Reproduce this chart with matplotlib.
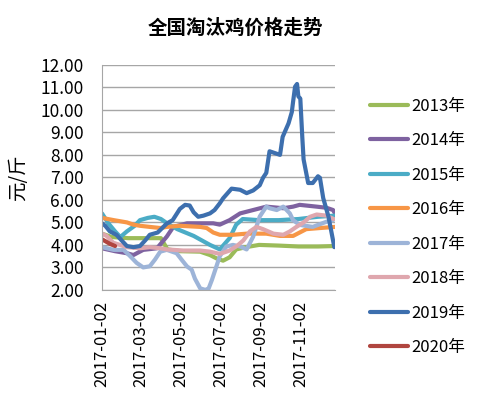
import numpy as np
import matplotlib.pyplot as plt

plt.rcParams['font.family'] = ['Noto Sans CJK SC', 'DejaVu Sans']

BASE = np.datetime64("2017-01-02")

# 每个年份: 距 2017-01-02 的天数 + 价格 (元/斤)
days_2013 = [0, 15, 40, 70, 90, 100, 120, 150, 165, 175, 185, 195, 205, 220, 240, 270, 300, 330, 355]
vals_2013 = [4.5, 4.35, 4.3, 4.3, 4.3, 3.8, 3.72, 3.7, 3.55, 3.4, 3.3, 3.45, 3.8, 3.9, 4.0, 3.97, 3.93, 3.93, 3.95]

days_2014 = [0, 20, 38, 48, 63, 84, 99, 109, 130, 150, 170, 180, 195, 211, 231, 251, 277, 292, 302, 328, 343, 353, 356]
vals_2014 = [3.85, 3.72, 3.63, 3.55, 3.78, 3.85, 4.37, 4.8, 4.96, 4.96, 4.96, 4.9, 5.1, 5.4, 5.55, 5.7, 5.63, 5.7, 5.78, 5.7, 5.65, 5.55, 5.4]

days_2015 = [0, 10, 20, 28, 38, 50, 58, 70, 80, 90, 100, 115, 140, 165, 180, 195, 205, 215, 240, 270, 300, 330, 356]
vals_2015 = [5.4, 4.95, 4.6, 4.35, 4.6, 4.85, 5.1, 5.2, 5.25, 5.15, 4.95, 4.7, 4.4, 4.0, 3.8, 4.3, 4.9, 5.15, 5.1, 5.1, 5.15, 5.25, 5.3]

days_2016 = [0, 18, 38, 48, 58, 73, 89, 99, 119, 150, 160, 170, 180, 200, 221, 251, 272, 292, 302, 312, 333, 356]
vals_2016 = [5.2, 5.1, 5.0, 4.9, 4.85, 4.8, 4.75, 4.8, 4.85, 4.8, 4.75, 4.55, 4.45, 4.45, 4.5, 4.5, 4.4, 4.4, 4.55, 4.7, 4.75, 4.8]

days_2017 = [0, 18, 33, 43, 53, 63, 73, 81, 89, 99, 114, 122, 130, 137, 142, 150, 158, 163, 168, 180, 190, 200, 211, 221, 231, 241, 251, 256, 267, 277, 287, 292, 302, 322, 343, 353]
vals_2017 = [3.9, 3.78, 3.78, 3.5, 3.2, 3.0, 3.05, 3.35, 3.7, 3.78, 3.63, 3.33, 3.04, 2.9, 2.5, 2.07, 2.0, 2.07, 2.45, 3.5, 3.93, 4.0, 3.93, 3.8, 4.37, 5.26, 5.7, 5.63, 5.55, 5.7, 5.4, 5.1, 4.89, 4.8, 5.03, 5.1]

days_2018 = [0, 7, 17, 38, 58, 73, 89, 99, 124, 150, 165, 180, 195, 206, 216, 226, 236, 246, 262, 277, 287, 297, 308, 318, 328, 343, 354]
vals_2018 = [4.5, 4.4, 4.1, 3.9, 3.85, 3.9, 3.85, 3.8, 3.75, 3.75, 3.7, 3.6, 3.75, 3.95, 4.2, 4.6, 4.8, 4.7, 4.5, 4.45, 4.6, 4.8, 5.0, 5.25, 5.35, 5.3, 5.15]

days_2019 = [0, 5, 12, 22, 30, 38, 48, 58, 66, 73, 85, 99, 108, 119, 127, 134, 140, 147, 155, 165, 172, 180, 185,
             198, 211, 221, 231, 241, 246, 251, 256, 262, 272, 276, 279, 285, 290, 292, 295, 298, 300, 303, 306,
             308, 311, 315, 322, 330, 333, 338, 346, 353, 355]
vals_2019 = [4.96, 4.85, 4.6, 4.45, 4.2, 3.95, 3.9, 3.95, 4.2, 4.45, 4.55, 4.95, 5.1, 5.6, 5.78, 5.75, 5.45, 5.25, 5.3, 5.4, 5.55, 5.85, 6.07,
             6.5, 6.45, 6.3, 6.42, 6.65, 6.98, 7.2, 8.16, 8.1, 8.0, 8.8, 9.0, 9.4, 9.9, 10.37, 11.03, 11.15, 10.6, 10.5, 8.8,
             7.8, 7.35, 6.75, 6.75, 7.05, 6.98, 6.08, 5.26, 4.2, 3.9]

days_2020 = [0, 6, 12, 20]
vals_2020 = [4.25, 4.15, 4.05, 3.95]

series = [
    ("2013年", days_2013, vals_2013, "#9BBB59"),
    ("2014年", days_2014, vals_2014, "#7E62A0"),
    ("2015年", days_2015, vals_2015, "#4BACC6"),
    ("2016年", days_2016, vals_2016, "#F79646"),
    ("2017年", days_2017, vals_2017, "#9DB4D8"),
    ("2018年", days_2018, vals_2018, "#DFA7AE"),
    ("2019年", days_2019, vals_2019, "#3D6FAE"),
    ("2020年", days_2020, vals_2020, "#B0453F"),
]

tick_dates = ["2017-01-02", "2017-03-02", "2017-05-02", "2017-07-02", "2017-09-02", "2017-11-02"]
y_ticks = [2, 3, 4, 5, 6, 7, 8, 9, 10, 11, 12]

fig = plt.figure(figsize=(5, 4.13), dpi=100)
ax = fig.add_axes([0.204, 0.298, 0.466, 0.545])

for name, d, v, c in series:
    x = BASE + np.array(d).astype("timedelta64[D]")
    ax.plot(x, v, color=c, lw=3.0, label=name, solid_capstyle="round", solid_joinstyle="round")

ax.set_ylim(2, 12)
ax.set_yticks(y_ticks)
ax.set_yticklabels([f"{t:.2f}" for t in y_ticks], fontsize=12.5)
ax.set_xlim(BASE, np.datetime64("2017-12-24"))
ax.set_xticks([np.datetime64(t) for t in tick_dates])
ax.set_xticklabels(tick_dates, rotation=90, fontsize=12)
ax.tick_params(axis="y", length=0, pad=13)
ax.tick_params(axis="x", length=0, pad=8)
ax.grid(axis="y", color="#A6A6A6", lw=1.0)
ax.set_axisbelow(True)
for s in ["top", "right"]:
    ax.spines[s].set_visible(False)
for s in ["left", "bottom"]:
    ax.spines[s].set_color("#A6A6A6")

ax.set_ylabel("元/斤", fontsize=14, labelpad=8)
fig.text(0.47, 0.932, "全国淘汰鸡价格走势", ha="center", va="center", fontsize=14, fontweight="bold")

fig.legend(loc="upper left", bbox_to_anchor=(0.71, 0.80), frameon=False, fontsize=12,
           handlelength=2.3, handletextpad=0.2, labelspacing=1.05)

fig.savefig("out.png", dpi=100)
